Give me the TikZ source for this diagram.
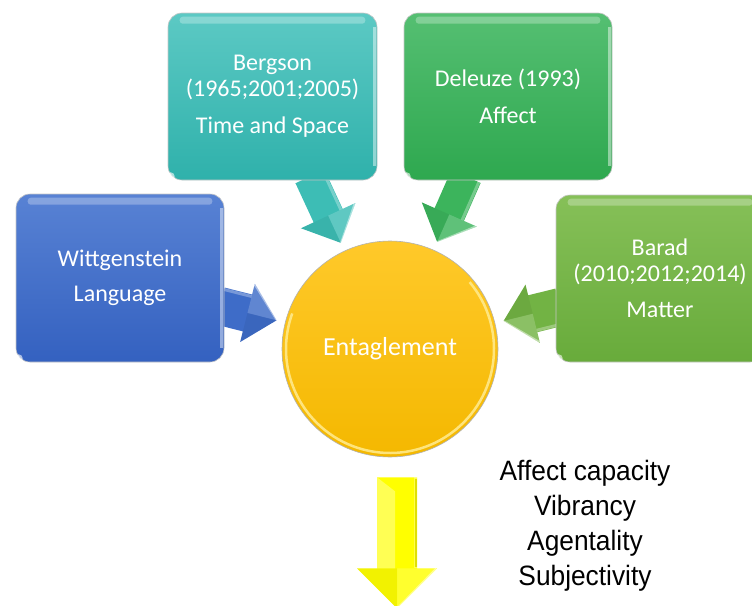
\documentclass[tikz,border=0pt]{standalone}
\usepackage{fontspec}
\setmainfont{Carlito}
\newfontfamily\narrowsans[FakeStretch=0.94]{Liberation Sans}
\usetikzlibrary{calc}

\definecolor{teal1}{HTML}{5CC9C4}\definecolor{teal2}{HTML}{2FB1AB}\definecolor{tealA}{HTML}{3DBDB5}
\definecolor{grn1}{HTML}{55BF72}\definecolor{grn2}{HTML}{2EA84F}\definecolor{grnA}{HTML}{3CB45C}
\definecolor{blu1}{HTML}{5882D4}\definecolor{blu2}{HTML}{3461C0}\definecolor{bluA}{HTML}{3E6CC8}
\definecolor{lim1}{HTML}{86C058}\definecolor{lim2}{HTML}{68AB3B}\definecolor{limA}{HTML}{72B344}
\definecolor{sun1}{HTML}{FFC92A}\definecolor{sun2}{HTML}{F4B800}\definecolor{sunrim}{HTML}{FFE98A}
\definecolor{lemon}{HTML}{FFFF00}\definecolor{lemonlt}{HTML}{FFFF8C}\definecolor{lemondk}{HTML}{E0E000}

% block arrow: #1 start, #2 tip, #3 shaft half width, #4 head half width, #5 head length, #6 colour
\newcommand\fatarrow[6]{%
  \coordinate (fa-base) at ($(#2)!#5!(#1)$);
  \fill[#6] ($(#1)!#3!90:(#2)$) -- ($(fa-base)!#3!90:(#2)$) -- ($(fa-base)!#4!90:(#2)$)
    -- (#2) -- ($(fa-base)!#4!-90:(#2)$) -- ($(fa-base)!#3!-90:(#2)$) -- ($(#1)!#3!-90:(#2)$) -- cycle;
  \fill[white,opacity=.18] (fa-base) -- ($(fa-base)!#4!90:(#2)$) -- (#2) -- cycle;
  \fill[black,opacity=.05] (fa-base) -- ($(fa-base)!#4!-90:(#2)$) -- (#2) -- cycle;
  \draw[white,opacity=.3,line width=3pt] ($(#1)!#3-2pt!90:(#2)$) -- ($(fa-base)!#3-2pt!90:(#2)$);
  \draw[white,opacity=.45,line width=1.5pt] ($(fa-base)!#4-1pt!90:(#2)$) -- (#2);
}

% glossy highlights on a source box
\newcommand\boxgloss[1]{%
  \fill[white,opacity=.28,rounded corners=3pt] ($(#1.north west)+(12,4)$) rectangle ($(#1.north east)+(-12,11)$);
  \fill[white,opacity=.45] ($(#1.north east)+(-4,14)$) rectangle ($(#1.south east)+(-1,-14)$);
  \fill[white,opacity=.6] ($(#1.south west)+(3,-4)$) circle (4pt);
}

\tikzset{
  srcbox/.style 2 args={rounded corners=14pt, minimum width=208pt, minimum height=167pt,
    top color=#1, bottom color=#2, draw=gray!45, line width=.6pt,
    text=white, align=center, font=\fontsize{24}{26}\selectfont, inner sep=0pt},
  hubnode/.style={circle, minimum size=216pt, inner sep=0pt, top color=sun1, bottom color=sun2,
    draw=gray!60, line width=.6pt, text=white, font=\fontsize{26}{30}\selectfont},
  outcome/.style={align=center, font=\narrowsans\fontsize{28}{35}\selectfont, text=black}
}

\begin{document}
\begin{tikzpicture}[x=1pt,y=-1pt]
\clip (0,0) rectangle (752,605);

% central circle
\node[hubnode] (hub) at (390,349) {Entaglement};
\draw[sunrim,line width=2.5pt,opacity=.9] (hub.center) ++(-40:104) arc[start angle=-40,end angle=200,radius=104];

% source box centres and the arrow end points
\path (272.5,96.5) coordinate (c-bergson) (508,96.5) coordinate (c-deleuze)
      (120,278) coordinate (c-witt) (660,278.5) coordinate (c-barad);

\coordinate (bergson-out) at ($(c-bergson)+(37.5,80)$);
\coordinate (deleuze-out) at ($(c-deleuze)+(-42,80)$);
\coordinate (witt-out) at ($(c-witt)+(100,28)$);
\coordinate (barad-out) at ($(c-barad)+(-100,28.5)$);

\coordinate (bergson-in) at ($(hub.center)!117pt!(bergson-out)$);
\coordinate (deleuze-in) at ($(hub.center)!117pt!(deleuze-out)$);
\coordinate (witt-in) at ($(hub.center)!117pt!(witt-out)$);
\coordinate (barad-in) at ($(hub.center)!117pt!(barad-out)$);

\fatarrow{bergson-out}{bergson-in}{16pt}{30pt}{30pt}{tealA}
\fatarrow{deleuze-out}{deleuze-in}{16pt}{30pt}{30pt}{grnA}
\fatarrow{witt-out}{witt-in}{19pt}{30pt}{30pt}{bluA}
\fatarrow{barad-out}{barad-in}{19pt}{30pt}{30pt}{limA}

\node[srcbox={teal1}{teal2}, minimum width=209pt] (bergson) at (c-bergson)
  {Bergson\\(1965;2001;2005)\\[11pt]Time and Space};
\node[srcbox={grn1}{grn2}] (deleuze) at (c-deleuze) {Deleuze (1993)\\[11pt]Affect};
\node[srcbox={blu1}{blu2}, minimum height=168pt] (witt) at (c-witt) {Wittgenstein\\[9pt]Language};
\node[srcbox={lim1}{lim2}] (barad) at (c-barad) {Barad\\(2010;2012;2014)\\[10pt]Matter};
\boxgloss{bergson}\boxgloss{deleuze}\boxgloss{witt}\boxgloss{barad}

% outgoing arrow and outcomes
\coordinate (out-top) at ($(hub.south)+(7,20)$);
\coordinate (out-tip) at ($(hub.south)+(7,151)$);
\fatarrow{out-top}{out-tip}{20pt}{40pt}{40pt}{lemon}
\fill[lemonlt,opacity=.6] ($(out-top)+(-20,0)$) -- ($(out-top)+(-2,14)$) -- ($(out-top)+(-2,91)$) -- ($(out-top)+(-20,91)$) -- cycle;
\draw[lemondk,line width=2pt] ($(out-top)+(19,2)$) -- ($(out-top)+(19,90)$);

\node[outcome] (results) at (585,526) {Affect capacity\\Vibrancy\\Agentality\\Subjectivity};
\end{tikzpicture}
\end{document}
